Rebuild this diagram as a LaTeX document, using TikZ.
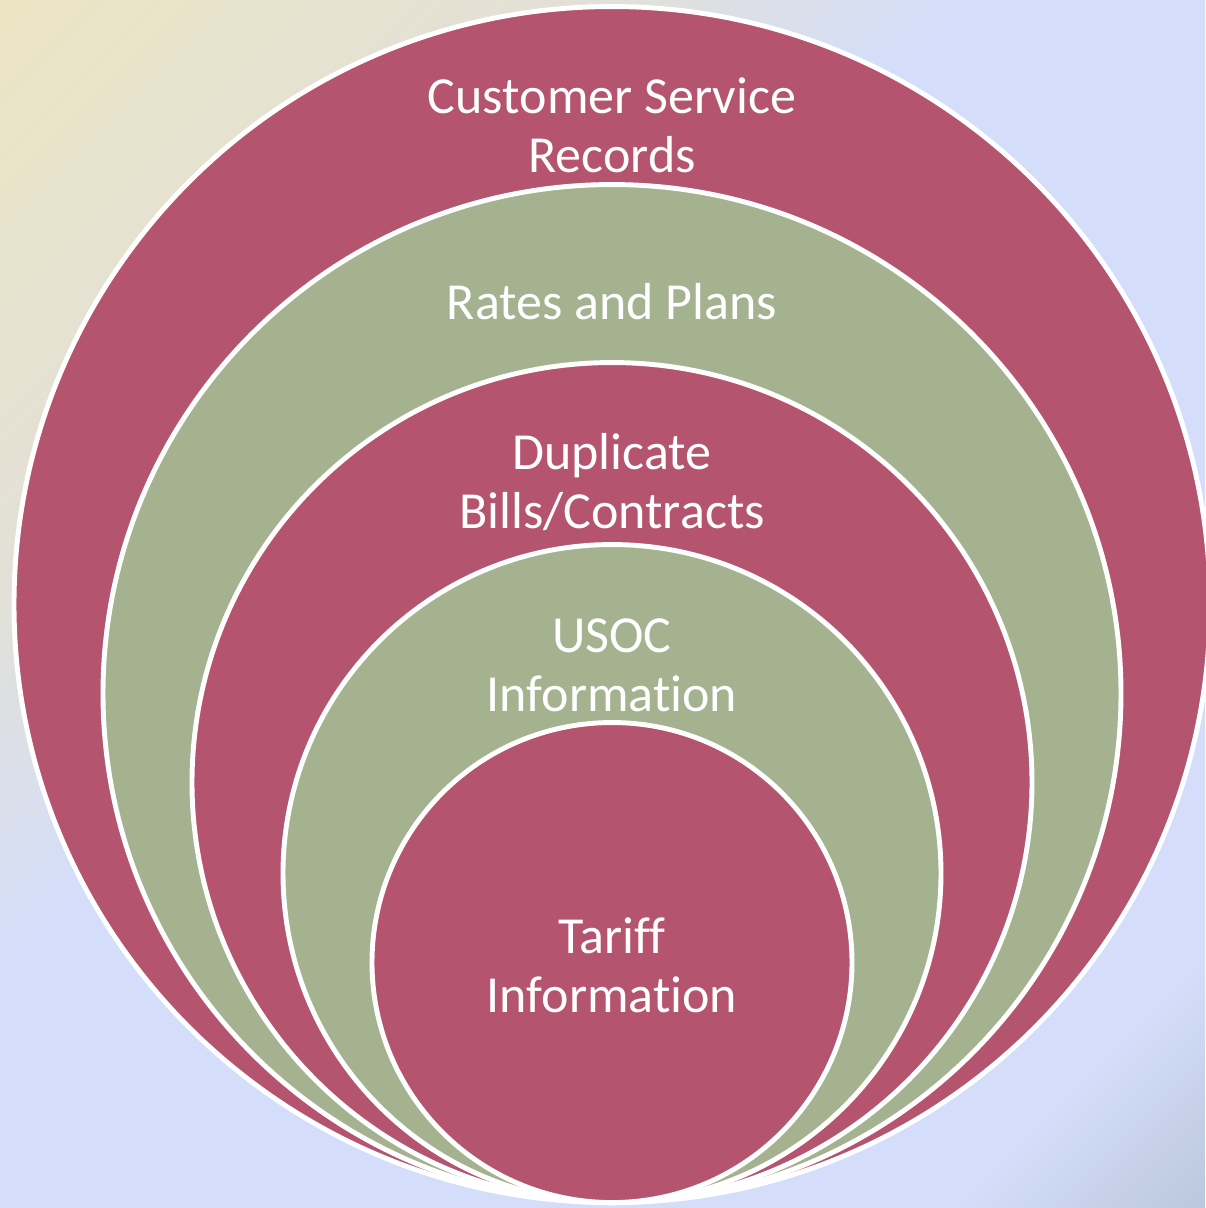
\documentclass[tikz,border=0pt]{standalone}
\usepackage{fontspec}
\setmainfont{Carlito}[Ligatures=NoCommon]
\usepackage{tikz}
\usetikzlibrary{positioning}

\definecolor{berry}{HTML}{B5546F}
\definecolor{sage}{HTML}{A5B290}
\definecolor{cream}{HTML}{ECE5C4}
\definecolor{mist}{HTML}{E2E0D8}
\definecolor{sky}{HTML}{D4DEFA}
\definecolor{steel}{HTML}{BCC8DC}

\pgfdeclarehorizontalshading{backdrop}{100bp}{color(0bp)=(cream); color(14.6bp)=(cream); color(32bp)=(mist); color(43bp)=(sky); color(78bp)=(sky); color(85.4bp)=(steel); color(100bp)=(steel)}

\begin{document}
\begin{tikzpicture}[
  x=0.02cm, y=-0.02cm,
  ring/.style={circle, draw=white, line width=2.8pt, inner sep=0pt, minimum size=2*#1*0.02cm, anchor=south},
  ringtext/.style={text=white, align=center, anchor=base, font=\fontsize{29.6}{33.5}\selectfont},
]

% Background
\shade[shading=backdrop, shading angle=-45] (0,0) rectangle (1205,1208);
\useasboundingbox (0,0) rectangle (1205,1208);

% Rings, all touching at the bottom
\coordinate (base) at (612,1205);
\node[ring=598, fill=berry] (customer) at (base) {};
\node[ring=509, fill=sage] (rates) at (base) {};
\node[ring=420, fill=berry] (duplicate) at (base) {};
\node[ring=329, fill=sage] (usoc) at (base) {};
\node[ring=240, fill=berry] (tariff) at (base) {};

% Text labels (base = last line)
\node[ringtext] (customerlabel) at (612,172) {Customer Service\\Records};
\node[ringtext] (rateslabel) at (612,319) {Rates and Plans};
\node[ringtext] (duplicatelabel) at (612,528) {Duplicate\\Bills/Contracts};
\node[ringtext] (usoclabel) at (612,711) {USOC\\Information};
\node[ringtext] (tarifflabel) at (612,1012) {Tariff\\Information};

\end{tikzpicture}
\end{document}
